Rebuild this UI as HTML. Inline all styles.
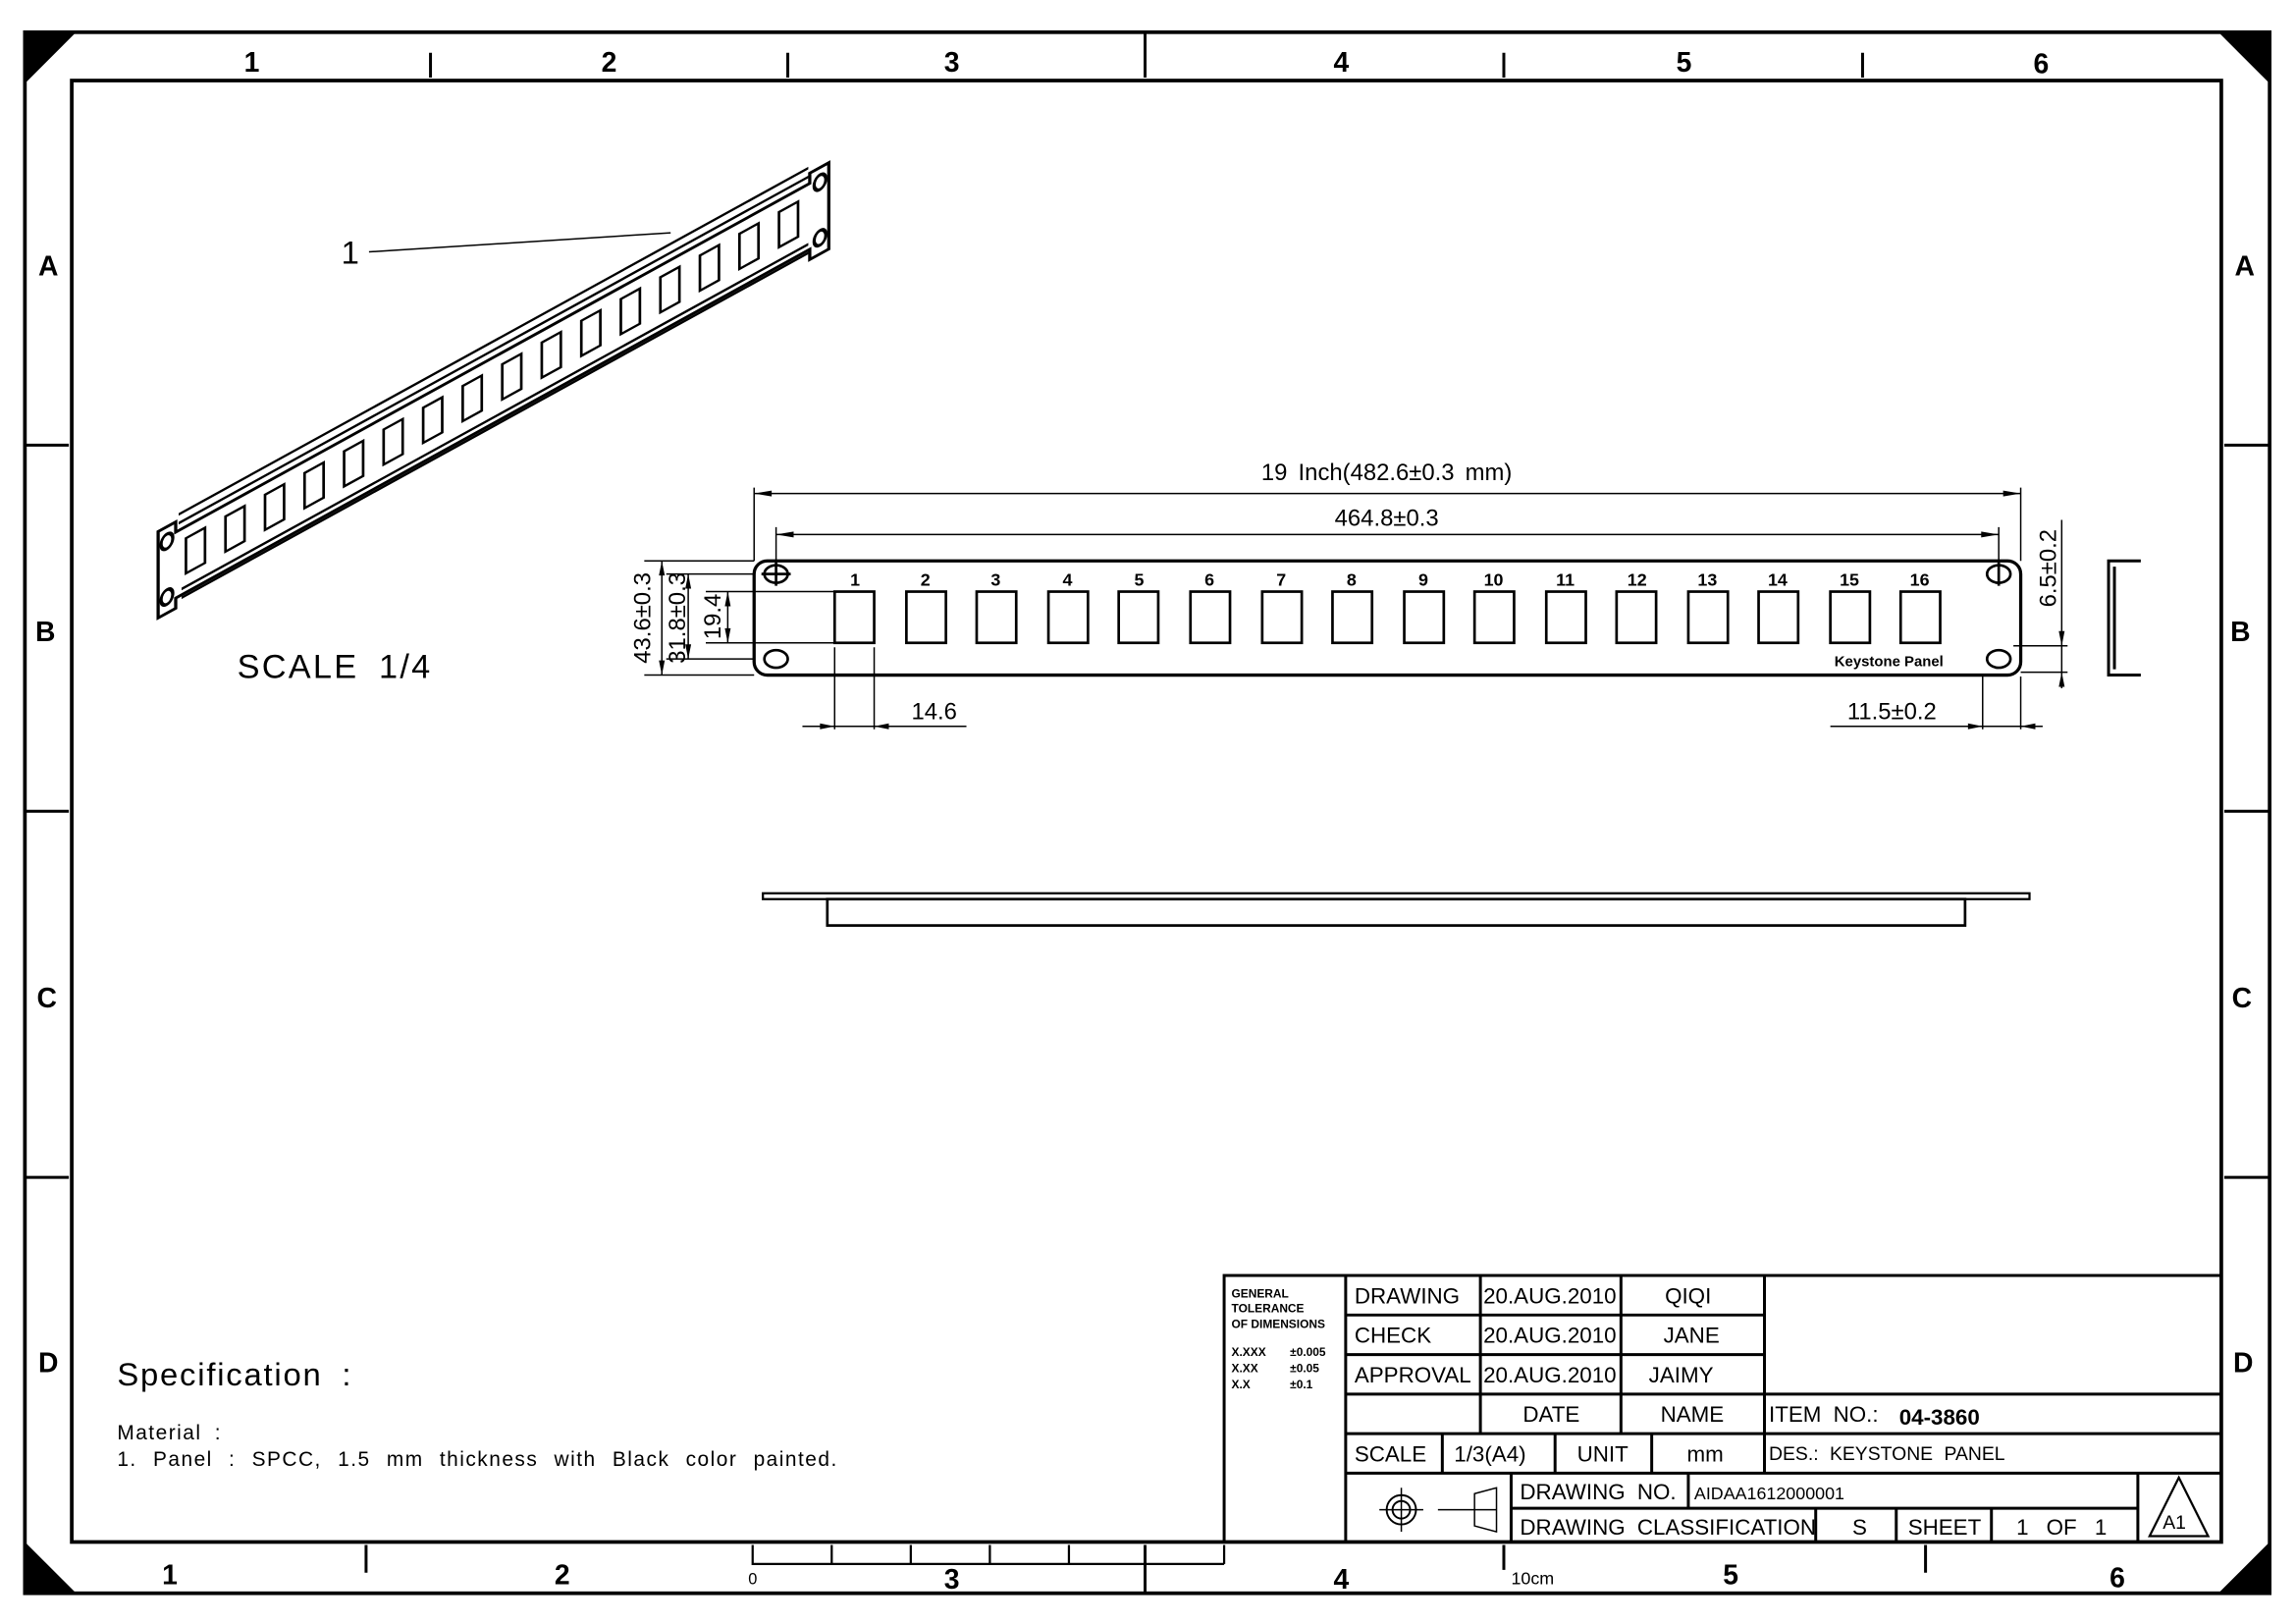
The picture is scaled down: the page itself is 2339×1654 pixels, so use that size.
<!DOCTYPE html>
<html><head><meta charset="utf-8"><style>
html,body{margin:0;padding:0;background:#fff;}
svg{display:block;}
text{font-family:"Liberation Sans",sans-serif;fill:#000;}
.b{font-family:"Liberation Serif",serif;font-weight:bold;font-size:19px;}
.t{font-size:15px;font-family:"Liberation Sans Narrow","Liberation Sans",sans-serif;}
</style></head><body>
<svg width="2339" height="1654" viewBox="0 0 1568 1109" preserveAspectRatio="none" xmlns="http://www.w3.org/2000/svg">
<rect width="1568" height="1109" fill="#fff"/>
<g fill="none" stroke="#000">
<rect x="17" y="22" width="1533" height="1066" stroke-width="2.5"/>
<rect x="49" y="55" width="1468" height="998" stroke-width="2.5"/>
<path d="M294 36V53M538 36V53M782 22V53M1027 36V53M1272 36V53" stroke-width="2"/>
<path d="M250 1055V1074M782 1055V1088M1027 1055V1072M1315 1055V1074" stroke-width="2"/>
<path d="M17 304H47M17 554H47M17 804H47M1519 304H1550M1519 554H1550M1519 804H1550" stroke-width="2"/>
</g>
<g fill="#000">
<polygon points="17,22 52,22 17,57"/><polygon points="1550,22 1515,22 1550,57"/>
<polygon points="17,1088 52,1088 17,1053"/><polygon points="1550,1088 1515,1088 1550,1053"/>
</g>
<g class="b" text-anchor="middle">
<text x="172" y="49">1</text><text x="416" y="49">2</text><text x="650" y="49">3</text><text x="916" y="49">4</text><text x="1150" y="49">5</text><text x="1394" y="50">6</text>
<text x="116" y="1082">1</text><text x="384" y="1082">2</text><text x="650" y="1085">3</text><text x="916" y="1085">4</text><text x="1182" y="1082">5</text><text x="1446" y="1084">6</text>
<text x="33" y="188">A</text><text x="31" y="438">B</text><text x="32" y="688">C</text><text x="33" y="937">D</text>
<text x="1533" y="188">A</text><text x="1530" y="438">B</text><text x="1531" y="688">C</text><text x="1532" y="937">D</text>
</g>
<!-- ruler -->
<g fill="none" stroke="#000" stroke-width="1.5">
<path d="M514 1055V1068H836M568 1055V1068M622 1055V1068M676 1055V1068M730 1055V1068M836 1055V1068"/>
</g>
<text x="511" y="1082" font-size="11">0</text><text x="1032" y="1082" font-size="12">10cm</text>

<!-- isometric view -->
<g transform="matrix(1,-0.55,0,1,108,0)" fill="none" stroke="#000" stroke-width="2.2">
<path d="M12 370L445 370L445 363L458 363L458 422L445 422L445 415L12 415L12 422L0 422L0 363L12 363Z"/>
<path d="M14 359H444M14 365H444M16 417H444M16 411H444" stroke-width="1.8"/>
<ellipse cx="6" cy="373" rx="4" ry="5"/><ellipse cx="6" cy="411" rx="4" ry="5"/>
<ellipse cx="452" cy="373" rx="4" ry="5"/><ellipse cx="452" cy="411" rx="4" ry="5"/>
<g stroke-width="1.8">
<rect x="19" y="378" width="13" height="24"/><rect x="46" y="378" width="13" height="24"/><rect x="73" y="378" width="13" height="24"/><rect x="100" y="378" width="13" height="24"/>
<rect x="127" y="378" width="13" height="24"/><rect x="154" y="378" width="13" height="24"/><rect x="181" y="378" width="13" height="24"/><rect x="208" y="378" width="13" height="24"/>
<rect x="235" y="378" width="13" height="24"/><rect x="262" y="378" width="13" height="24"/><rect x="289" y="378" width="13" height="24"/><rect x="316" y="378" width="13" height="24"/>
<rect x="343" y="378" width="13" height="24"/><rect x="370" y="378" width="13" height="24"/><rect x="397" y="378" width="13" height="24"/><rect x="424" y="378" width="13" height="24"/>
</g>
</g>
<text x="233" y="180" font-size="22">1</text>
<line x1="252" y1="172" x2="458" y2="159" stroke="#000" stroke-width="1"/>
<text x="162" y="463" font-size="23" letter-spacing="1.5" word-spacing="6">SCALE 1/4</text>

<!-- front view -->
<g fill="none" stroke="#000">
<rect x="515" y="383" width="865" height="78" rx="9" stroke-width="2.2"/>
<g stroke-width="1.8">
<ellipse cx="530" cy="392" rx="8" ry="6"/><ellipse cx="530" cy="450" rx="8" ry="6"/>
<ellipse cx="1365" cy="392" rx="8" ry="6"/><ellipse cx="1365" cy="450" rx="8" ry="6"/>
<path d="M520 392H540M530 384V400M1365 384V400"/>
</g>
<g stroke-width="1.8">
<rect x="570" y="404" width="27" height="35"/><rect x="619" y="404" width="27" height="35"/><rect x="667" y="404" width="27" height="35"/><rect x="716" y="404" width="27" height="35"/>
<rect x="764" y="404" width="27" height="35"/><rect x="813" y="404" width="27" height="35"/><rect x="862" y="404" width="27" height="35"/><rect x="910" y="404" width="27" height="35"/>
<rect x="959" y="404" width="27" height="35"/><rect x="1007" y="404" width="27" height="35"/><rect x="1056" y="404" width="27" height="35"/><rect x="1104" y="404" width="27" height="35"/>
<rect x="1153" y="404" width="27" height="35"/><rect x="1201" y="404" width="27" height="35"/><rect x="1250" y="404" width="27" height="35"/><rect x="1298" y="404" width="27" height="35"/>
</g>
<g stroke-width="1">
<path d="M515 333V383M1380 333V383M530 360V385M1365 360V385M515 337H1380M530 365H1365"/>
<path d="M440 383H515M455 392H515M482 404H570M455 450H515M440 461H515M482 439H570"/>
<path d="M452 383V461M470 392V450M497 404V439"/>
<path d="M570 442V498M597 442V498M548 496H660"/>
<path d="M1354 462V498M1380 462V498M1250 496H1395"/>
<path d="M1408 355V470M1375 441H1412M1380 459H1412"/>
</g>
<path d="M1462 383H1440V461H1462M1444 387V457" stroke-width="2"/>
<rect x="521" y="610" width="865" height="4" stroke-width="1.5"/>
<rect x="565" y="614" width="777" height="18" stroke-width="1.8"/>
</g>
<g fill="#000">
<polygon points="515,337 527,335 527,339"/><polygon points="1380,337 1368,335 1368,339"/>
<polygon points="530,365 542,363 542,367"/><polygon points="1365,365 1353,363 1353,367"/>
<polygon points="452,383 450,393 454,393"/><polygon points="452,461 450,451 454,451"/>
<polygon points="470,392 468,402 472,402"/><polygon points="470,450 468,440 472,440"/>
<polygon points="497,404 495,414 499,414"/><polygon points="497,439 495,429 499,429"/>
<polygon points="570,496 560,494 560,498"/><polygon points="597,496 607,494 607,498"/>
<polygon points="1354,496 1344,494 1344,498"/><polygon points="1380,496 1390,494 1390,498"/>
<polygon points="1408,441 1406,431 1410,431"/><polygon points="1408,459 1406,469 1410,469"/>
</g>
<text x="947" y="328" font-size="16" text-anchor="middle" word-spacing="3">19 Inch(482.6±0.3 mm)</text>
<text x="947" y="359" font-size="16" text-anchor="middle">464.8±0.3</text>
<text x="638" y="491" font-size="16" text-anchor="middle">14.6</text>
<text x="1292" y="491" font-size="16" text-anchor="middle">11.5±0.2</text>
<text transform="translate(444,422) rotate(-90)" font-size="16" text-anchor="middle">43.6±0.3</text>
<text transform="translate(468,422) rotate(-90)" font-size="16" text-anchor="middle">31.8±0.3</text>
<text transform="translate(492,421) rotate(-90)" font-size="16" text-anchor="middle">19.4</text>
<text transform="translate(1404,388) rotate(-90)" font-size="16" text-anchor="middle">6.5±0.2</text>
<g font-size="12" font-weight="bold" text-anchor="middle">
<text x="584" y="400">1</text><text x="632" y="400">2</text><text x="680" y="400">3</text><text x="729" y="400">4</text><text x="778" y="400">5</text><text x="826" y="400">6</text><text x="875" y="400">7</text><text x="923" y="400">8</text><text x="972" y="400">9</text><text x="1020" y="400">10</text><text x="1069" y="400">11</text><text x="1118" y="400">12</text><text x="1166" y="400">13</text><text x="1214" y="400">14</text><text x="1263" y="400">15</text><text x="1311" y="400">16</text>
</g>
<text x="1290" y="455" font-size="10" font-weight="bold" text-anchor="middle">Keystone Panel</text>

<!-- spec -->
<text x="80" y="946" font-size="22" letter-spacing="1.2" word-spacing="6">Specification :</text>
<text x="80" y="983" font-size="14" letter-spacing="1" word-spacing="4">Material :</text>
<text x="80" y="1001" font-size="14" letter-spacing="1" word-spacing="6">1. Panel : SPCC, 1.5 mm thickness with Black color painted.</text>

<!-- title block -->
<g fill="none" stroke="#000" stroke-width="2">
<rect x="836" y="871" width="681" height="182"/>
<path d="M919 871V1053M1011 871V979M1107 871V979M1205 871V1006"/>
<path d="M919 898H1205M919 925H1205M919 952H1517M919 979H1517M919 1006H1517M1032 1030H1460"/>
<path d="M985 979V1006M1062 979V1006M1128 979V1006M1032 1006V1053M1153 1006V1030M1240 1030V1053M1295 1030V1053M1360 1030V1053M1460 1006V1053"/>
<circle cx="957" cy="1031" r="10" stroke-width="1.3"/><circle cx="957" cy="1031" r="6" stroke-width="1.3"/>
<path d="M942 1031H972M957 1016V1046M982 1031H1022M1007 1020L1022 1016V1046L1007 1042Z" stroke-width="1"/>
<path d="M1488 1009L1468 1049H1508Z" stroke-width="1.5"/>
</g>
<g font-size="8" font-weight="bold">
<text x="841" y="886">GENERAL</text><text x="841" y="896">TOLERANCE</text><text x="841" y="907">OF  DIMENSIONS</text>
<text x="841" y="926">X.XXX</text><text x="881" y="926">±0.005</text>
<text x="841" y="937">X.XX</text><text x="881" y="937">±0.05</text>
<text x="841" y="948">X.X</text><text x="881" y="948">±0.1</text>
</g>
<g class="t">
<text x="925" y="890">DRAWING</text><text x="1013" y="890">20.AUG.2010</text><text x="1137" y="890">QIQI</text>
<text x="925" y="917">CHECK</text><text x="1013" y="917">20.AUG.2010</text><text x="1136" y="917">JANE</text>
<text x="925" y="944">APPROVAL</text><text x="1013" y="944">20.AUG.2010</text><text x="1126" y="944">JAIMY</text>
<text x="1040" y="971">DATE</text><text x="1134" y="971">NAME</text>
<text x="1208" y="971" word-spacing="4">ITEM NO.:</text><text x="1297" y="973" font-weight="bold">04-3860</text>
<text x="925" y="998">SCALE</text><text x="993" y="998">1/3(A4)</text><text x="1077" y="998">UNIT</text><text x="1152" y="998">mm</text>
<text x="1208" y="997" font-size="13" word-spacing="4">DES.: KEYSTONE PANEL</text>
<text x="1038" y="1024" word-spacing="4">DRAWING NO.</text><text x="1157" y="1024" font-size="12">AIDAA1612000001</text>
<text x="1038" y="1048" word-spacing="4">DRAWING CLASSIFICATION</text><text x="1265" y="1048">S</text><text x="1303" y="1048">SHEET</text><text x="1377" y="1048" word-spacing="8">1 OF 1</text>
<text x="1477" y="1044" font-size="13">A1</text>
</g>
</svg>
</body></html>
